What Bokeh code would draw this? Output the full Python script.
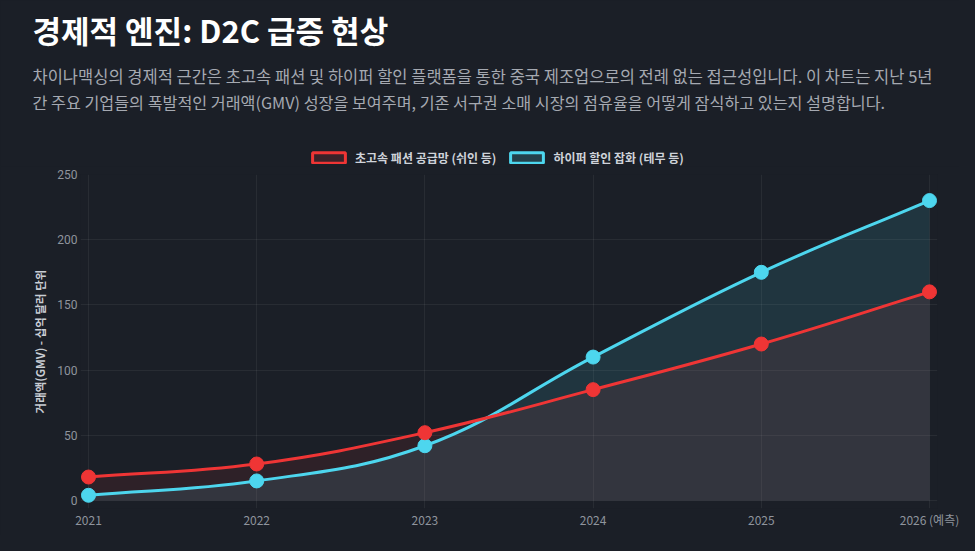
import math
from bokeh.plotting import figure
from bokeh.layouts import column
from bokeh.models import Range1d, FixedTicker, Label, Legend, LegendItem, ColumnDataSource
from bokeh.embed import file_html
from bokeh.resources import INLINE

# ---------------- data ----------------
title_text = "경제적 엔진: D2C 급증 현상"
subtitle_lines = [
    "차이나맥싱의 경제적 근간은 초고속 패션 및 하이퍼 할인 플랫폼을 통한 중국 제조업으로의 전례 없는 접근성입니다. 이 차트는 지난 5년",
    "간 주요 기업들의 폭발적인 거래액(GMV) 성장을 보여주며, 기존 서구권 소매 시장의 점유율을 어떻게 잠식하고 있는지 설명합니다.",
]
years = [2021, 2022, 2023, 2024, 2025, 2026]
year_labels = ["2021", "2022", "2023", "2024", "2025", "2026 (예측)"]
shein_gmv = [18, 28, 52, 85, 120, 160]
temu_gmv = [4, 15, 42, 110, 175, 230]
series_names = ["초고속 패션 공급망 (쉬인 등)", "하이퍼 할인 잡화 (테무 등)"]
y_ticks = [0, 50, 100, 150, 200, 250]
y_axis_title = "거래액(GMV) - 십억 달러 단위"

# ---------------- style ----------------
FONT = "Noto Sans CJK KR"
BG = "#1b1f27"
RED = "#ef3535"
CYAN = "#4dd6ee"
W, H = 959, 535
HEAD_H = 166
CH_H = H - HEAD_H
F_LEFT, F_RIGHT, F_TOP, F_BOTTOM = 80, 937, 8, 342   # chart frame in chart-figure px
PAD_PX = 8
x_min, x_max = years[0], years[-1]
y_min, y_max = y_ticks[0], y_ticks[-1]
px_per_x = (F_RIGHT - F_LEFT - 2 * PAD_PX) / (x_max - x_min)
px_per_y = (F_BOTTOM - F_TOP - PAD_PX) / (y_max - y_min)
pad_x = PAD_PX / px_per_x
pad_y = PAD_PX / px_per_y


def no_frame_align(fig):
    try:
        fig.frame_align = False
    except Exception:
        pass


# ---------------- header figure (title, subtitle, legend) ----------------
head = figure(width=W, height=HEAD_H, output_backend="svg", toolbar_location=None,
              x_range=Range1d(0, W), y_range=Range1d(HEAD_H, 0),
              min_border_left=0, min_border_right=0, min_border_top=0, min_border_bottom=0)
no_frame_align(head)
head.axis.visible = False
head.grid.visible = False
head.outline_line_color = None
head.background_fill_color = BG
head.border_fill_color = BG


def add_text(text, x, y, size, color, style="normal"):
    head.add_layout(Label(x=x, y=y, text=text, text_font=FONT, text_font_size=size,
                          text_font_style=style, text_color=color,
                          text_align="left", text_baseline="middle"))


add_text(title_text, 32, 29, "31px", "#ffffff", "bold")
add_text(subtitle_lines[0], 32, 75, "16.5px", "#a5a9b1")
add_text(subtitle_lines[1], 32, 101, "16.2px", "#a5a9b1")

leg_items = []
for name, col, vals, alpha in zip(series_names, [RED, CYAN], [shein_gmv, temu_gmv], [0.15, 0.18]):
    # hidden one-row glyph that only supplies the legend swatch style
    r = head.quad(left=years[:1], right=years[:1], top=vals[:1], bottom=vals[:1],
                  fill_color=col, fill_alpha=alpha, line_color=col, line_width=3,
                  visible=False)
    leg_items.append(LegendItem(label=name, renderers=[r]))
LEG_X, LEG_CY, LEG_H = 308, 158, 16
legend = Legend(items=leg_items, orientation="horizontal",
                location=(LEG_X, HEAD_H - (LEG_CY + LEG_H / 2)),
                glyph_width=41, glyph_height=13, label_standoff=6, spacing=10,
                label_height=LEG_H, padding=0, margin=0,
                background_fill_alpha=0, border_line_color=None,
                inactive_fill_alpha=0,
                label_text_font=FONT, label_text_font_style="bold",
                label_text_font_size="12px", label_text_color="#cfd3da")
head.add_layout(legend)

# ---------------- chart figure ----------------
p = figure(width=W, height=CH_H, output_backend="svg", toolbar_location=None,
           x_range=Range1d(x_min - pad_x, x_max + pad_x),
           y_range=Range1d(y_min - pad_y, y_max),
           min_border_left=F_LEFT, min_border_right=W - F_RIGHT,
           min_border_top=F_TOP, min_border_bottom=CH_H - F_BOTTOM)
no_frame_align(p)
p.background_fill_color = BG
p.border_fill_color = BG
p.outline_line_color = None


def spline_controls(xs, ys, t=0.4):
    """Chart.js-style (tension) bezier control points, computed in pixel space."""
    n = len(xs)
    px = [x * px_per_x for x in xs]
    py = [y * px_per_y for y in ys]
    prev_cp, next_cp = [], []
    for i in range(n):
        a, b = max(i - 1, 0), min(i + 1, n - 1)
        d01 = math.hypot(px[i] - px[a], py[i] - py[a])
        d12 = math.hypot(px[b] - px[i], py[b] - py[i])
        tot = d01 + d12
        s01 = d01 / tot if tot else 0
        s12 = d12 / tot if tot else 0
        dx, dy = px[b] - px[a], py[b] - py[a]
        prev_cp.append(((px[i] - t * s01 * dx) / px_per_x, (py[i] - t * s01 * dy) / px_per_y))
        next_cp.append(((px[i] + t * s12 * dx) / px_per_x, (py[i] + t * s12 * dy) / px_per_y))
    return dict(x0=xs[:-1], y0=ys[:-1], x1=xs[1:], y1=ys[1:],
                cx0=[c[0] for c in next_cp[:-1]], cy0=[c[1] for c in next_cp[:-1]],
                cx1=[c[0] for c in prev_cp[1:]], cy1=[c[1] for c in prev_cp[1:]])


def bezier_path(segs, steps=30):
    out_x, out_y = [], []
    nseg = len(segs["x0"])
    for k in range(nseg):
        P = [(segs["x0"][k], segs["y0"][k]), (segs["cx0"][k], segs["cy0"][k]),
             (segs["cx1"][k], segs["cy1"][k]), (segs["x1"][k], segs["y1"][k])]
        for j in range(steps + (1 if k == nseg - 1 else 0)):
            s = j / steps
            u = 1 - s
            out_x.append(u**3 * P[0][0] + 3 * u * u * s * P[1][0] + 3 * u * s * s * P[2][0] + s**3 * P[3][0])
            out_y.append(u**3 * P[0][1] + 3 * u * u * s * P[1][1] + 3 * u * s * s * P[2][1] + s**3 * P[3][1])
    return out_x, out_y


series = [(temu_gmv, CYAN, 0.12), (shein_gmv, RED, 0.09)]  # red (dataset 0) drawn last, on top
for vals, col, alpha in series:
    fx, fy = bezier_path(spline_controls(years, vals))
    p.varea(x=fx, y1=[y_min] * len(fx), y2=fy, fill_color=col, fill_alpha=alpha)
for vals, col, _ in series:
    segs = spline_controls(years, vals)
    p.bezier(source=ColumnDataSource(segs), x0="x0", y0="y0", x1="x1", y1="y1",
             cx0="cx0", cy0="cy0", cx1="cx1", cy1="cy1", line_color=col, line_width=3)
    p.scatter(years, vals, size=14, fill_color=col, line_color=col)

# axes & grids
p.xgrid.ticker = FixedTicker(ticks=years)
p.ygrid.ticker = FixedTicker(ticks=y_ticks)
for g in (p.xgrid, p.ygrid):
    g.grid_line_color = "#ffffff"
    g.grid_line_alpha = 0.06
    g.grid_line_width = 1

p.xaxis.ticker = FixedTicker(ticks=years)
p.xaxis.major_label_overrides = {y: l for y, l in zip(years, year_labels)}
p.yaxis.ticker = FixedTicker(ticks=y_ticks)
for ax in (p.xaxis, p.yaxis):
    ax.axis_line_color = None
    ax.major_tick_line_color = None
    ax.minor_tick_line_color = None
    ax.major_tick_out = 0
    ax.major_tick_in = 0
    ax.major_label_text_font_size = "12px"
    ax.major_label_text_color = "#8f949d"
p.xaxis.major_label_text_font = FONT
p.yaxis.major_label_text_font = "Roboto"
p.xaxis.major_label_standoff = 2
p.yaxis.major_label_standoff = 3
p.yaxis.axis_label = y_axis_title
p.yaxis.axis_label_text_font = FONT
p.yaxis.axis_label_text_font_size = "11.5px"
p.yaxis.axis_label_text_font_style = "bold"
p.yaxis.axis_label_text_color = "#c9cdd4"
p.yaxis.axis_label_standoff = 6

layout = column(head, p, spacing=0)
html = file_html(layout, INLINE)
css = "<style>html, body { background-color: %s !important; }</style></head>" % BG
html = html.replace("</head>", css, 1)
open("out.html", "w").write(html)
